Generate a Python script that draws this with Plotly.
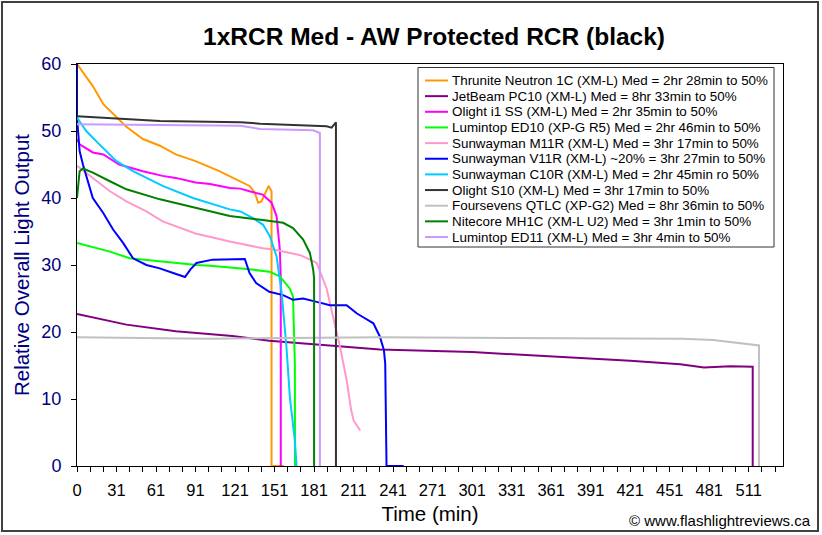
import plotly.graph_objects as go

# ---- data (minutes, relative output) ----
names = [
    "Thrunite Neutron 1C (XM-L) Med = 2hr 28min to 50%",
    "JetBeam PC10 (XM-L) Med = 8hr 33min to 50%",
    "Olight i1 SS (XM-L) Med = 2hr 35min to 50%",
    "Lumintop ED10 (XP-G R5) Med = 2hr 46min to 50%",
    "Sunwayman M11R (XM-L) Med = 3hr 17min to 50%",
    "Sunwayman V11R (XM-L) ~20% = 3hr 27min to 50%",
    "Sunwayman C10R (XM-L) Med = 2hr 45min ro 50%",
    "Olight S10 (XM-L) Med = 3hr 17min to 50%",
    "Foursevens QTLC (XP-G2) Med = 8hr 36min to 50%",
    "Nitecore MH1C (XM-L U2) Med = 3hr 1min to 50%",
    "Lumintop ED11 (XM-L) Med = 3hr 4min to 50%",
]

thrunite_x = [0, 4.5, 12, 20, 30, 37, 50, 63, 75, 90, 108, 123, 131, 135, 137.5, 140, 144, 145.5, 147.7, 147.7, 157]
thrunite_y = [60, 58.7, 56.7, 54, 52, 50.7, 48.8, 47.8, 46.5, 45.5, 44, 42.5, 41.8, 40.8, 39.3, 39.5, 41.3, 41.8, 41, 0, 0]

jetbeam_x = [0, 37.5, 75, 118, 146, 190, 230, 300, 367, 420, 458, 476, 496, 513, 513]
jetbeam_y = [22.7, 21.1, 20.1, 19.4, 18.7, 18.0, 17.4, 17.0, 16.3, 15.7, 15.2, 14.7, 14.9, 14.8, 0]

olight_i1_x = [0, 2, 12, 20, 32, 50, 65, 75, 90, 101, 116, 124, 131, 141, 147.7, 151.5, 154, 154.7, 154.7]
olight_i1_y = [48.8, 48, 46.8, 46.5, 45, 44, 43.3, 43, 42.3, 42.1, 41.5, 41.4, 41, 40.5, 39.3, 37.3, 32.3, 28, 0]

ed10_x = [0, 25, 40, 50, 75, 91, 101, 124, 129, 146, 154, 161.5, 164, 165.4, 165.5]
ed10_y = [33.3, 32, 31, 30.8, 30.3, 30, 29.9, 29.5, 29.4, 29, 28.3, 26.5, 25.3, 15.3, 0]

m11r_x = [0, 12, 25, 37.5, 52.7, 65, 90, 116, 141, 149, 169, 177, 182, 189.5, 195, 200, 205, 208, 210, 215]
m11r_y = [44.8, 43, 41, 39.5, 38, 36.5, 34.7, 33.5, 32.5, 32.3, 31.5, 30.8, 30.3, 26.5, 22, 17.5, 12.5, 8.5, 6.8, 5.3]

v11r_x = [0, 0, 0.8, 2, 4.5, 8.4, 12, 19.8, 27.4, 35, 42.5, 52.7, 62.8, 73, 82, 86, 90.7, 103, 116, 127.4,
          131, 136, 146, 156.5, 164, 171.7, 182, 192, 204.7, 212.3, 217.3, 225, 230, 233, 234, 235, 248]
v11r_y = [60, 52, 50, 47, 45, 42.5, 40, 37.8, 35.3, 33.3, 31, 30, 29.5, 28.8, 28.2, 29.3, 30.3, 30.8, 30.9, 30.9,
          28.8, 27.3, 26, 25.5, 24.8, 25, 24.5, 24, 24, 22.8, 22.2, 21.3, 19.3, 17.3, 15.3, 0, 0]

c10r_x = [0, 7, 17, 30, 42.5, 65, 88, 116, 124, 133.7, 141.3, 146.4, 151.5, 155.3, 159, 161.6, 165.4, 166.7]
c10r_y = [52, 50, 48, 45.5, 44, 41.8, 40, 38.3, 38, 37, 36, 34.3, 31.3, 26, 17.8, 10.3, 3.8, 0]

s10_x = [0, 63, 124, 139, 189.5, 193.3, 196.6, 196.6]
s10_y = [52.2, 51.5, 51.3, 51.1, 50.7, 50.5, 51.3, 0]

qtlc_x = [0, 100, 230, 400, 460, 483, 503, 516, 517.8, 517.8]
qtlc_y = [19.2, 19.0, 19.2, 19.1, 19.0, 18.8, 18.4, 18.1, 18.0, 0]

mh1c_x = [0, 2, 4.5, 12, 25, 37.5, 63, 88, 116, 141, 156.5, 164, 171.7, 176.8, 179.3, 180, 180]
mh1c_y = [40, 44, 44.4, 43.8, 42.5, 41.3, 39.8, 38.6, 37.3, 36.7, 36.3, 35.5, 33.8, 31.8, 29.3, 28, 0]

ed11_x = [0, 124, 139, 179.3, 184.4, 184.4]
ed11_y = [51, 50.8, 50.3, 50.1, 49.7, 0]

series_x = [thrunite_x, jetbeam_x, olight_i1_x, ed10_x, m11r_x, v11r_x, c10r_x, s10_x, qtlc_x, mh1c_x, ed11_x]
series_y = [thrunite_y, jetbeam_y, olight_i1_y, ed10_y, m11r_y, v11r_y, c10r_y, s10_y, qtlc_y, mh1c_y, ed11_y]
colors = ["#FF9900", "#800080", "#FF00FF", "#00FF00", "#FF99CC", "#0000FF",
          "#00CCFF", "#333333", "#C0C0C0", "#008000", "#CC99FF"]

x_tick_vals = list(range(0, 531, 10))
x_tick_labels = ["0" if v == 0 else (str(v + 1) if v % 30 == 0 else "") for v in x_tick_vals]
y_tick_vals = [0, 10, 20, 30, 40, 50, 60]

FONT = "Liberation Sans, Arial, sans-serif"

# ---- layout geometry (pixels) ----
W, H = 822, 535
ML, MR, MT, MB = 77, 39, 64, 69
PW, PH = W - ML - MR, H - MT - MB


def px_x(p):
    return (p - ML) / PW


def px_y(p):
    return (H - MB - p) / PH


fig = go.Figure()
for nm, xs, ys, c in zip(names, series_x, series_y, colors):
    fig.add_trace(go.Scatter(x=xs, y=ys, mode="lines", name=nm, showlegend=False,
                             line=dict(color=c, width=2)))

fig.update_layout(
    width=W, height=H,
    margin=dict(l=ML, r=MR, t=MT, b=MB, autoexpand=False),
    paper_bgcolor="white", plot_bgcolor="white",
    font=dict(family=FONT, color="black"),
    title=dict(text="<b>1xRCR Med - AW Protected RCR (black)</b>",
               x=0.528, xanchor="center", y=1 - 36 / H, yanchor="middle",
               font=dict(size=24.5, family=FONT, color="black")),
    showlegend=False,
    xaxis=dict(range=[0, 536], tickmode="array", tickvals=x_tick_vals, ticktext=x_tick_labels,
               ticks="outside", ticklen=5, tickcolor="black", tickwidth=1,
               showline=True, linecolor="black", linewidth=1, mirror=True,
               showgrid=False, zeroline=False, ticklabelstandoff=4,
               tickfont=dict(size=16.5, color="black", family=FONT),
               title=dict(text="Time (min)", font=dict(size=20.5, color="black", family=FONT), standoff=8)),
    yaxis=dict(range=[0, 60], tickmode="array", tickvals=y_tick_vals,
               ticks="outside", ticklen=5, tickcolor="black", tickwidth=1,
               showline=True, linecolor="black", linewidth=1, mirror=True,
               showgrid=False, zeroline=False, ticklabelstandoff=6,
               tickfont=dict(size=18, color="#000080", family=FONT),
               title=dict(text="Relative Overall Light Output",
                          font=dict(size=20.5, color="#000080", family=FONT), standoff=6)),
)

# outer chart border
fig.add_shape(type="rect", xref="paper", yref="paper",
              x0=px_x(2), x1=px_x(818), y0=px_y(531), y1=px_y(2),
              line=dict(color="#404040", width=2), layer="below")

# legend box (drawn by hand to match the compact row spacing)
leg_left, leg_right, leg_top, leg_bottom = 418, 774, 67.5, 247
row0, row_step = 80.5, 15.65
fig.add_shape(type="rect", xref="paper", yref="paper",
              x0=px_x(leg_left), x1=px_x(leg_right), y0=px_y(leg_bottom), y1=px_y(leg_top),
              line=dict(color="#333333", width=1), fillcolor="white", layer="above")
for i, (nm, c) in enumerate(zip(names, colors)):
    ry = row0 + i * row_step
    fig.add_shape(type="line", xref="paper", yref="paper",
                  x0=px_x(425), x1=px_x(448), y0=px_y(ry), y1=px_y(ry),
                  line=dict(color=c, width=2), layer="above")
    fig.add_annotation(text=nm, xref="paper", yref="paper", x=px_x(450), y=px_y(ry),
                       xanchor="left", yanchor="middle", showarrow=False,
                       font=dict(size=13.4, color="black", family=FONT))

fig.add_annotation(text="© www.flashlightreviews.ca", xref="paper", yref="paper",
                   x=px_x(813), y=px_y(520), xanchor="right", yanchor="middle", showarrow=False,
                   font=dict(size=15, color="black", family=FONT))

fig.write_html("out.html", config={"displayModeBar": False},
               post_script="document.body.style.margin='0';")
